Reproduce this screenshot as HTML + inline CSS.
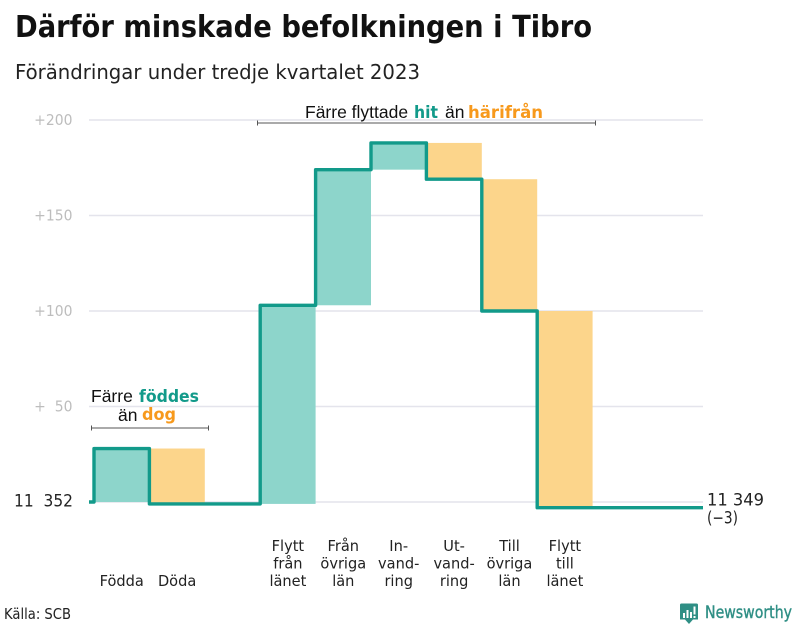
<!DOCTYPE html>
<html lang="sv">
<head>
<meta charset="utf-8">
<title>Därför minskade befolkningen i Tibro</title>
<style>
html,body{margin:0;padding:0;background:#fff;}
svg{display:block;}
text{font-family:"DejaVu Sans","Liberation Sans",sans-serif;}
.ann{font-family:"Liberation Sans",sans-serif;font-size:17.5px;fill:#111;}
.annb{font-family:"DejaVu Sans",sans-serif;font-weight:bold;font-size:17px;}
</style>
</head>
<body>
<svg id="chart" width="800" height="625" viewBox="0 0 800 625" xmlns="http://www.w3.org/2000/svg">
  <rect width="800" height="625" fill="#fff"/>
  <text x="15" y="37" font-size="30" font-weight="bold" fill="#111" textLength="577" lengthAdjust="spacingAndGlyphs">Därför minskade befolkningen i Tibro</text>
  <text x="15" y="79" font-size="20.500" fill="#222" textLength="405" lengthAdjust="spacingAndGlyphs">Förändringar under tredje kvartalet 2023</text>
  <g id="grid"></g>
  <g id="ticks"></g>
  <g id="bars"></g>
  <g id="cats"></g>
  <path id="stepline" fill="none" stroke="#129a8a" stroke-width="3.4" stroke-linejoin="round"></path>

  <text x="14" y="506.500" font-size="16.500" fill="#222" textLength="59" lengthAdjust="spacingAndGlyphs">11&#160;&#160;352</text>
  <text x="707" y="505.500" font-size="17" fill="#222" textLength="57" lengthAdjust="spacingAndGlyphs">11 349</text>
  <text x="707" y="523.500" font-size="17" fill="#222" textLength="31" lengthAdjust="spacingAndGlyphs">(−3)</text>

  <g>
    <text class="ann" x="91" y="402">Färre</text>
    <text class="annb" x="139" y="402" fill="#129a8a" textLength="60" lengthAdjust="spacingAndGlyphs">föddes</text>
    <text class="ann" x="118" y="421">än</text>
    <text class="annb" x="142" y="420" fill="#f7991c" textLength="34" lengthAdjust="spacingAndGlyphs">dog</text>
    <path d="M91.500 425.500V430.500M91.500 428H208.500M208.500 425.500V430.500" stroke="#555" stroke-width="1" fill="none"/>
  </g>
  <g>
    <text class="ann" x="305" y="118">Färre flyttade</text>
    <text class="annb" x="414" y="118" fill="#129a8a" textLength="24" lengthAdjust="spacingAndGlyphs">hit</text>
    <text class="ann" x="445" y="118">än</text>
    <text class="annb" x="468" y="118" fill="#f7991c" textLength="75" lengthAdjust="spacingAndGlyphs">härifrån</text>
    <path d="M257.500 120.500V125.500M257.500 123H595.500M595.500 120.500V125.500" stroke="#555" stroke-width="1" fill="none"/>
  </g>

  <text x="4" y="619" font-size="15" fill="#222" textLength="67" lengthAdjust="spacingAndGlyphs">Källa: SCB</text>
  <g>
    <path d="M680 605Q680 603.500 681.500 603.500H696.500Q698 603.500 698 605V619.500H693L689 624L685 619.500H680Z" fill="#2f8f85"/>
    <path d="M683 613h2v5h-2zM686.500 610h2v8h-2zM690 612h2v6h-2zM693.500 606.500h2v8h-2zM693.500 616h2v2h-2z" fill="#fff"/>
    <text x="705" y="618" font-size="17" fill="#2f8f85" stroke="#2f8f85" stroke-width="0.4" textLength="87" lengthAdjust="spacingAndGlyphs">Newsworthy</text>
  </g>
</svg>
<script>
const categories = ['Födda', 'Döda', '', 'Flytt|från|länet', 'Från|övriga|län', 'In-|vand-|ring', 'Ut-|vand-|ring', 'Till|övriga|län', 'Flytt|till|länet'];
const changes = [28, -29, 0, 104, 71, 14, -19, -69, -103];
const tickValues = [0, 50, 100, 150, 200];
const tickLabels = ['', '+\u00a0\u00a050', '+100', '+150', '+200'];

const NS = 'http://www.w3.org/2000/svg';
const plotLeft = 94, bandWidth = 55.4, gridLeft = 89, gridRight = 703;
const zeroY = 502, unitPx = 1.91, labelBottom = 586, lineHeight = 17.5;
const yScale = v => zeroY - v * unitPx;
const xScale = i => plotLeft + i * bandWidth;

const grid = document.getElementById('grid');
const ticks = document.getElementById('ticks');
const bars = document.getElementById('bars');
const cats = document.getElementById('cats');

function squeeze(t, factor) {
  const len = t.getComputedTextLength();
  t.setAttribute('textLength', (len * factor).toFixed(2));
  t.setAttribute('lengthAdjust', 'spacingAndGlyphs');
}

tickValues.forEach((v, i) => {
  const ln = document.createElementNS(NS, 'line');
  
  
  ln.setAttribute('x1', gridLeft);
  ln.setAttribute('x2', gridRight);
  ln.setAttribute('y1', yScale(v));
  ln.setAttribute('y2', yScale(v));
  ln.setAttribute('stroke', '#e4e4ec');
  ln.setAttribute('stroke-width', '1.5');
  grid.appendChild(ln);
  if (tickLabels[i]) {
    const t = document.createElementNS(NS, 'text');
    
    
    t.setAttribute('x', 72.5);
    t.setAttribute('y', yScale(v) + 5);
    t.setAttribute('text-anchor', 'end');
    t.setAttribute('font-size', '15.500');
    t.setAttribute('fill', '#bdbdbd');
    t.textContent = tickLabels[i];
    ticks.appendChild(t);
    squeeze(t, 0.9);
  }
});

let level = 0;
let d = 'M' + gridLeft + ' ' + yScale(0) + 'H' + xScale(0);
changes.forEach((c, i) => {
  const next = level + c;
  if (c !== 0) {
    const r = document.createElementNS(NS, 'rect');
    
    
    r.setAttribute('x', xScale(i));
    r.setAttribute('width', bandWidth);
    r.setAttribute('y', yScale(Math.max(level, next)));
    r.setAttribute('height', Math.abs(c) * unitPx);
    r.setAttribute('fill', c > 0 ? '#8dd5cb' : '#fcd58b');
    bars.appendChild(r);
  }
  d += 'V' + yScale(next) + 'H' + xScale(i + 1);
  level = next;
  const lines = categories[i].split('|');
  lines.forEach((txt, k) => {
    if (!txt) return;
    const t = document.createElementNS(NS, 'text');
    
    
    t.setAttribute('x', xScale(i) + bandWidth / 2);
    t.setAttribute('y', labelBottom - (lines.length - 1 - k) * lineHeight);
    t.setAttribute('text-anchor', 'middle');
    t.setAttribute('font-size', '15.500');
    t.setAttribute('fill', '#222');
    t.textContent = txt;
    cats.appendChild(t);
    squeeze(t, 0.94);
  });
});
d += 'H' + gridRight;
document.getElementById('stepline').setAttribute('d', d);
</script>
</body>
</html>
